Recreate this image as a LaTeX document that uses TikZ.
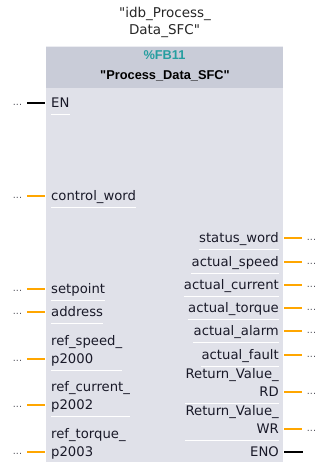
\documentclass[tikz,border=0pt]{standalone}
\usepackage{fontspec}
\setmainfont{DejaVu Sans}
\newfontfamily\hdrfont{Liberation Sans}
\definecolor{hdr}{RGB}{201,204,216}
\definecolor{bdy}{RGB}{224,225,233}
\definecolor{topln}{RGB}{236,237,242}
\definecolor{pinor}{RGB}{255,166,0}
\definecolor{fbteal}{RGB}{38,158,160}
\definecolor{txt}{RGB}{25,25,40}
\definecolor{dotc}{RGB}{80,80,90}
\tikzset{
  lab/.style={font=\fontsize{13.2}{15}\selectfont, text=txt, inner sep=0pt, text height=10pt, text depth=3pt},
  lpin/.style={lab, anchor=west},
  rpin/.style={lab, anchor=east},
  wire/.style={pinor, line width=2.6pt},
  bwire/.style={black, line width=2.6pt},
  sep/.style={white, line width=1pt},
  dots/.style={font=\fontsize{9.5}{9}\selectfont, text=dotc, inner sep=0pt, anchor=base},
  ttl/.style={font=\fontsize{13.5}{15}\selectfont, text=black!85, inner sep=0pt},
  hd/.style={font=\hdrfont\bfseries\fontsize{12.8}{15}\selectfont, inner sep=0pt},
}
\begin{document}
\begin{tikzpicture}[x=1pt,y=-1pt]
\useasboundingbox (0,0) rectangle (320,462);
% block
\fill[bdy] (46,88) rectangle (283,462);
\fill[hdr] (46,47) rectangle (283,88);
\draw[topln, line width=1pt] (46,46.5) -- (283,46.5);
% title
\node[ttl] (t1) at (165,14) {\textquotedbl idb\_Process\_};
\node[ttl] (t2) at (164.5,31) {Data\_SFC\textquotedbl};
\node[hd, text=fbteal] (fb) at (164.5,55) {\%FB11};
\node[hd, text=black] (nm) at (165,76) {\textquotedbl Process\_Data\_SFC\textquotedbl};
% EN
\node[dots] (dEN) at (17.5,105.5) {...};
\coordinate (aEN) at (27,103);
\coordinate (bEN) at (45,103);
\draw[bwire] (aEN) -- (bEN);
\node[lpin] (lEN) at (51,104) {EN};
\draw[sep] ([yshift=-4pt]lEN.south west) -- ([yshift=-4pt]lEN.south east);
% left single-line pins
\foreach \n/\t/\y in {cw/control\_word/196, sp/setpoint/289, ad/address/312} {
  \node[dots] (d\n) at (17.5,\y+2.5) {...};
  \coordinate (a\n) at (27,\y);
  \coordinate (b\n) at (45,\y);
  \draw[wire] (a\n) -- (b\n);
  \node[lpin] (l\n) at (51,\y+1) {\t};
  \draw[sep] ([yshift=-4pt]l\n.south west) -- ([yshift=-4pt]l\n.south east);
}
% left two-line pins
\foreach \n/\a/\t/\y in {rs/ref\_speed\_/p2000/359, rc/ref\_current\_/p2002/405, rt/ref\_torque\_/p2003/452} {
  \node[dots] (d\n) at (17.5,\y+2.5) {...};
  \coordinate (a\n) at (27,\y);
  \coordinate (b\n) at (45,\y);
  \draw[wire] (a\n) -- (b\n);
  \node[lpin] (l\n) at (51,\y+1) {\t};
  \node[lpin] (u\n) at (51,\y-17) {\a};
  \draw[sep] ([yshift=-4pt]l\n.south west) -- ([yshift=-4pt]l\n.south west -| u\n.east);
}
% right single-line pins
\foreach \n/\t/\y in {sw/status\_word/238, as/actual\_speed/262, ac/actual\_current/285, at/actual\_torque/308, al/actual\_alarm/331, af/actual\_fault/355} {
  \node[dots] (d\n) at (311.5,\y+2.5) {...};
  \coordinate (a\n) at (284,\y);
  \coordinate (b\n) at (302,\y);
  \draw[wire] (a\n) -- (b\n);
  \node[rpin] (l\n) at (279,\y+1) {\t};
  \draw[sep] ([yshift=-4pt]l\n.south west) -- ([yshift=-4pt]l\n.south east);
}
% right two-line pins
\foreach \n/\a/\t/\y in {rd/Return\_Value\_/RD/392, wr/Return\_Value\_/WR/429} {
  \node[dots] (d\n) at (311.5,\y+2.5) {...};
  \coordinate (a\n) at (284,\y);
  \coordinate (b\n) at (302,\y);
  \draw[wire] (a\n) -- (b\n);
  \node[rpin] (l\n) at (279,\y+1) {\t};
  \node[rpin] (u\n) at (279,\y-17) {\a};
  \draw[sep] ([yshift=-4pt]l\n.south west -| u\n.west) -- ([yshift=-4pt]l\n.south east);
}
% ENO
\coordinate (aENO) at (284,452);
\coordinate (bENO) at (303,452);
\draw[bwire] (aENO) -- (bENO);
\node[rpin] (lENO) at (279,453) {ENO};
\end{tikzpicture}
\end{document}
